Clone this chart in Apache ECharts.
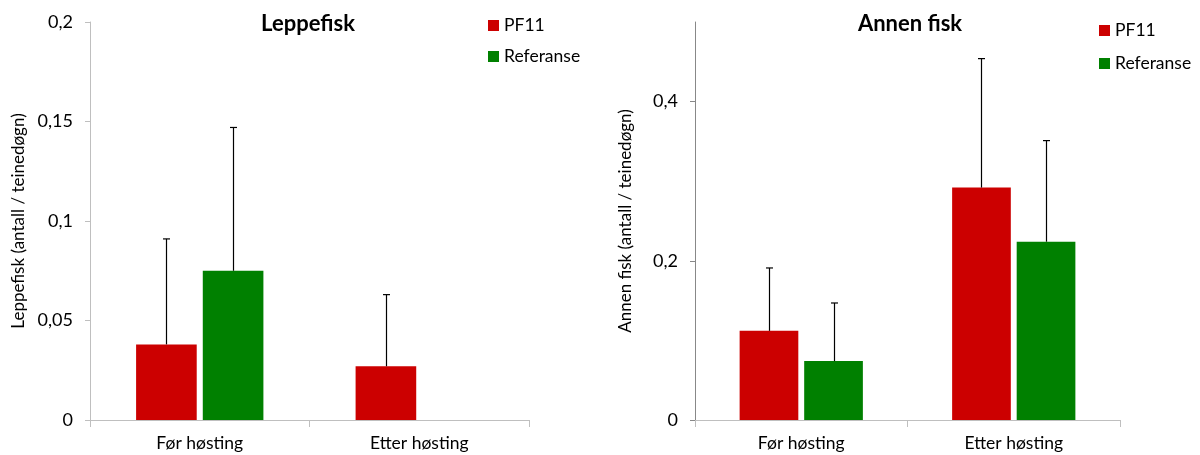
<!DOCTYPE html>
<html>
<head>
<meta charset="utf-8">
<script src="https://cdn.jsdelivr.net/npm/echarts@6/dist/echarts.min.js"></script>
<style>html,body{margin:0;padding:0;background:#fff;}#c{width:1200px;height:455px;}</style>
</head>
<body>
<div id="c"></div>
<script>
var categories = ['Før høsting', 'Etter høsting'];
var seriesNames = ['PF11', 'Referanse'];
// Leppefisk
var leppePF11 = [0.038, 0.027];
var leppePF11Err = [0.053, 0.036];
var leppeRef = [0.075, 0];
var leppeRefErr = [0.072, null];
var leppeTicks = [0, 0.05, 0.1, 0.15, 0.2];
// Annen fisk
var annenPF11 = [0.112, 0.292];
var annenPF11Err = [0.079, 0.162];
var annenRef = [0.074, 0.224];
var annenRefErr = [0.073, 0.127];
var annenTicks = [0, 0.2, 0.4];

var FONT = 'Lato, "Open Sans", sans-serif';
var RED = '#cc0000', GREEN = '#008000';
var CAT_GAP = 0.42, BAR_GAP = 0.1;

function fmt(v){ return String(+v.toFixed(3)).replace('.', ','); }

function errSeries(axisIdx, vals, errs, idx){
  var data = [];
  for (var i = 0; i < vals.length; i++) {
    if (errs[i] != null) data.push([i, vals[i], vals[i] + errs[i]]);
  }
  return {
    type: 'custom', xAxisIndex: axisIdx, yAxisIndex: axisIdx, silent: true, z: 5,
    data: data,
    encode: { x: 0, y: [1, 2] },
    renderItem: function(params, api){
      var band = api.size([1, 0])[0];
      var bw = band * (1 - CAT_GAP) / (2 + BAR_GAP);
      var off = (idx === 0 ? -1 : 1) * (bw * (1 + BAR_GAP)) / 2;
      var p0 = api.coord([api.value(0), api.value(1)]);
      var p1 = api.coord([api.value(0), api.value(2)]);
      var x = Math.round(p0[0] + off) + 0.5;
      var st = { stroke: '#000', lineWidth: 1.2 };
      return { type: 'group', children: [
        { type: 'line', shape: { x1: x, y1: p0[1], x2: x, y2: p1[1] }, style: st },
        { type: 'line', shape: { x1: x - 3.5, y1: p1[1], x2: x + 3.5, y2: p1[1] }, style: st }
      ]};
    }
  };
}

function yAxis(gridIdx, max, interval, ticks, lineColor, name, nameGap){
  return {
    type: 'value', gridIndex: gridIdx, min: 0, max: max, interval: interval,
    name: name, nameLocation: 'middle', nameGap: nameGap, nameRotate: 90,
    nameTextStyle: { fontFamily: FONT, fontSize: 17, color: '#000' },
    axisLine: { show: true, lineStyle: { color: lineColor, width: 1 } },
    axisTick: { show: true, length: 5, lineStyle: { color: lineColor }, customValues: ticks },
    axisLabel: { fontFamily: FONT, fontSize: 18, color: '#000', margin: 17,
      formatter: function(v){ return fmt(v); }, customValues: ticks },
    splitLine: { show: false }
  };
}

function xAxis(gridIdx){
  return {
    type: 'category', gridIndex: gridIdx, data: categories,
    axisLine: { lineStyle: { color: '#bfbfbf' } },
    axisTick: { show: true, length: 7, alignWithLabel: false, lineStyle: { color: '#bfbfbf' } },
    axisLabel: { fontFamily: FONT, fontSize: 17.5, color: '#000', margin: 14 }
  };
}

function bar(axisIdx, name, vals, color){
  return {
    type: 'bar', name: name, xAxisIndex: axisIdx, yAxisIndex: axisIdx, data: vals,
    itemStyle: { color: color }, barCategoryGap: (CAT_GAP*100) + '%', barGap: (BAR_GAP*100) + '%',
    silent: true
  };
}

var chart = echarts.init(document.getElementById('c'), null, { renderer: 'canvas' });
chart.setOption({
  animation: false,
  backgroundColor: '#fff',
  title: [
    { text: 'Leppefisk', left: 303, top: 8, textAlign: 'center',
      textStyle: { fontFamily: FONT, fontSize: 22, fontWeight: 'bold', color: '#000' } },
    { text: 'Annen fisk', left: 905, top: 8, textAlign: 'center',
      textStyle: { fontFamily: FONT, fontSize: 22, fontWeight: 'bold', color: '#000' } }
  ],
  legend: [
    { orient: 'vertical', left: 488, top: 16.5, padding: 0, icon: 'rect', itemWidth: 11, itemHeight: 11, itemGap: 13,
      data: seriesNames.map(function(n){ return { name: n }; }),
      textStyle: { fontFamily: FONT, fontSize: 17.5, color: '#000', lineHeight: 18 } },
    { orient: 'vertical', left: 1099, top: 21.5, padding: 0, icon: 'rect', itemWidth: 11, itemHeight: 11, itemGap: 15,
      data: seriesNames.map(function(n){ return { name: n }; }),
      textStyle: { fontFamily: FONT, fontSize: 17.5, color: '#000', lineHeight: 18 } }
  ],
  grid: [
    { left: 90, right: 671, top: 22, bottom: 35 },
    { left: 695, right: 80, top: 22, bottom: 35 }
  ],
  xAxis: [ xAxis(0), xAxis(1) ],
  yAxis: [
    yAxis(0, 0.2, 0.05, leppeTicks, '#bfbfbf', 'Leppefisk (antall / teinedøgn)', 63),
    yAxis(1, 0.5, 0.1, annenTicks, '#888888', 'Annen fisk (antall / teinedøgn)', 61)
  ],
  series: [
    bar(0, 'PF11', leppePF11, RED),
    bar(0, 'Referanse', leppeRef, GREEN),
    bar(1, 'PF11', annenPF11, RED),
    bar(1, 'Referanse', annenRef, GREEN),
    errSeries(0, leppePF11, leppePF11Err, 0),
    errSeries(0, leppeRef, leppeRefErr, 1),
    errSeries(1, annenPF11, annenPF11Err, 0),
    errSeries(1, annenRef, annenRefErr, 1)
  ]
});
</script>
</body>
</html>
